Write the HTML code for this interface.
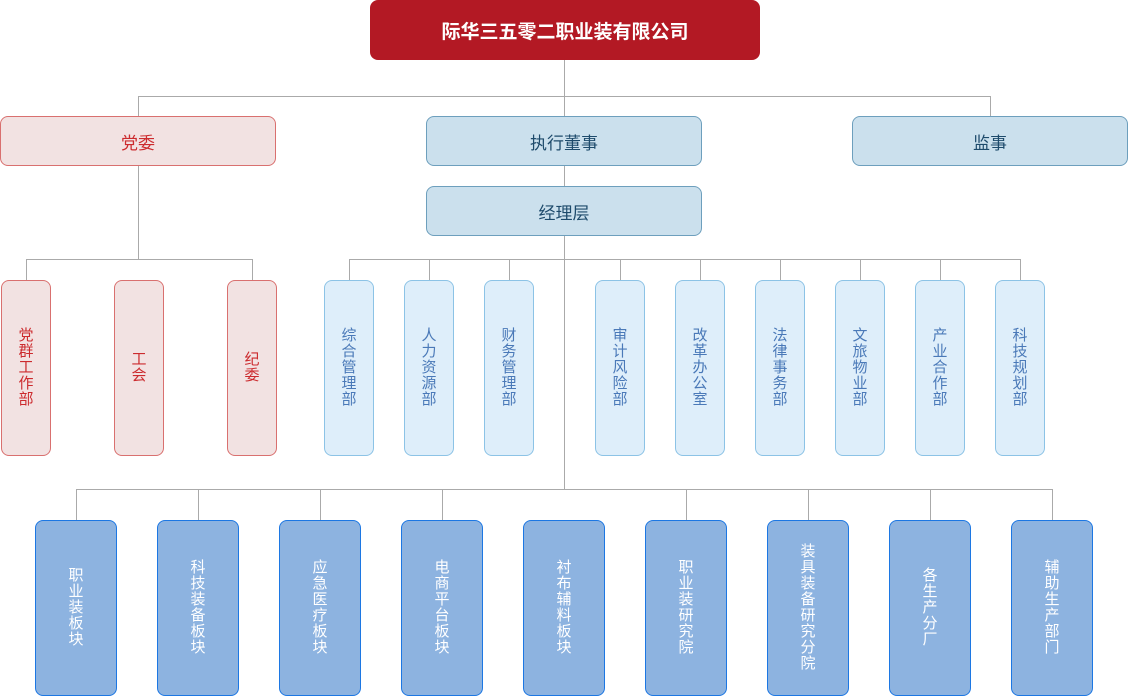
<!DOCTYPE html>
<html><head><meta charset="utf-8"><style>
body{margin:0;width:1128px;height:696px;background:#fff;position:relative;overflow:hidden;font-family:"Liberation Sans","Noto Sans CJK SC",sans-serif}
.b{position:absolute;box-sizing:border-box;display:flex;align-items:center;justify-content:center;text-align:center}
.l{position:absolute;background:#aaa}
.v{width:15px;line-height:16px;font-size:15px;word-break:break-all}
.r{border:1px solid #d9706f;background:#f2e2e2;color:#cc2b2e;border-radius:8px}
.c{border:1px solid #8cc3e6;background:#deeefa;color:#4a79b8;border-radius:8px}
.d{border:1px solid #1c77e3;background:#8db3e0;color:#fff;border-radius:8px}
.h{border:1px solid #6d9fbd;background:#cbe0ed;color:#1d4a6b;border-radius:8px;font-size:17px}
</style></head><body>
<div class="l" style="left:564px;top:59px;width:1px;height:430px"></div>
<div class="l" style="left:138px;top:96px;width:853px;height:1px"></div>
<div class="l" style="left:138px;top:96px;width:1px;height:20px"></div>
<div class="l" style="left:990px;top:96px;width:1px;height:20px"></div>
<div class="l" style="left:138px;top:165px;width:1px;height:94px"></div>
<div class="l" style="left:26px;top:259px;width:227px;height:1px"></div>
<div class="l" style="left:26px;top:259px;width:1px;height:21px"></div>
<div class="l" style="left:252px;top:259px;width:1px;height:21px"></div>
<div class="l" style="left:349px;top:259px;width:672px;height:1px"></div>
<div class="l" style="left:349px;top:259px;width:1px;height:21px"></div>
<div class="l" style="left:429px;top:259px;width:1px;height:21px"></div>
<div class="l" style="left:509px;top:259px;width:1px;height:21px"></div>
<div class="l" style="left:620px;top:259px;width:1px;height:21px"></div>
<div class="l" style="left:700px;top:259px;width:1px;height:21px"></div>
<div class="l" style="left:780px;top:259px;width:1px;height:21px"></div>
<div class="l" style="left:860px;top:259px;width:1px;height:21px"></div>
<div class="l" style="left:940px;top:259px;width:1px;height:21px"></div>
<div class="l" style="left:1020px;top:259px;width:1px;height:21px"></div>
<div class="l" style="left:76px;top:489px;width:977px;height:1px"></div>
<div class="l" style="left:76px;top:489px;width:1px;height:31px"></div>
<div class="l" style="left:198px;top:489px;width:1px;height:31px"></div>
<div class="l" style="left:320px;top:489px;width:1px;height:31px"></div>
<div class="l" style="left:442px;top:489px;width:1px;height:31px"></div>
<div class="l" style="left:686px;top:489px;width:1px;height:31px"></div>
<div class="l" style="left:808px;top:489px;width:1px;height:31px"></div>
<div class="l" style="left:930px;top:489px;width:1px;height:31px"></div>
<div class="l" style="left:1052px;top:489px;width:1px;height:31px"></div>

<div class="b" style="left:370px;top:0;width:390px;height:60px;background:#b31924;border-radius:8px;color:#fff;font-size:19px;font-weight:bold">际华三五零二职业装有限公司</div>
<div class="b r" style="left:0;top:116px;width:276px;height:50px;font-size:17px">党委</div>
<div class="b h" style="left:426px;top:116px;width:276px;height:50px">执行董事</div>
<div class="b h" style="left:852px;top:116px;width:276px;height:50px">监事</div>
<div class="b h" style="left:426px;top:186px;width:276px;height:50px">经理层</div>

<div class="b r" style="left:1px;top:280px;width:50px;height:176px"><div class="v">党群工作部</div></div>
<div class="b r" style="left:114px;top:280px;width:50px;height:176px"><div class="v">工会</div></div>
<div class="b r" style="left:227px;top:280px;width:50px;height:176px"><div class="v">纪委</div></div>

<div class="b c" style="left:324px;top:280px;width:50px;height:176px"><div class="v">综合管理部</div></div>
<div class="b c" style="left:404px;top:280px;width:50px;height:176px"><div class="v">人力资源部</div></div>
<div class="b c" style="left:484px;top:280px;width:50px;height:176px"><div class="v">财务管理部</div></div>
<div class="b c" style="left:595px;top:280px;width:50px;height:176px"><div class="v">审计风险部</div></div>
<div class="b c" style="left:675px;top:280px;width:50px;height:176px"><div class="v">改革办公室</div></div>
<div class="b c" style="left:755px;top:280px;width:50px;height:176px"><div class="v">法律事务部</div></div>
<div class="b c" style="left:835px;top:280px;width:50px;height:176px"><div class="v">文旅物业部</div></div>
<div class="b c" style="left:915px;top:280px;width:50px;height:176px"><div class="v">产业合作部</div></div>
<div class="b c" style="left:995px;top:280px;width:50px;height:176px"><div class="v">科技规划部</div></div>

<div class="b d" style="left:35px;top:520px;width:82px;height:176px"><div class="v">职业装板块</div></div>
<div class="b d" style="left:157px;top:520px;width:82px;height:176px"><div class="v">科技装备板块</div></div>
<div class="b d" style="left:279px;top:520px;width:82px;height:176px"><div class="v">应急医疗板块</div></div>
<div class="b d" style="left:401px;top:520px;width:82px;height:176px"><div class="v">电商平台板块</div></div>
<div class="b d" style="left:523px;top:520px;width:82px;height:176px"><div class="v">衬布辅料板块</div></div>
<div class="b d" style="left:645px;top:520px;width:82px;height:176px"><div class="v">职业装研究院</div></div>
<div class="b d" style="left:767px;top:520px;width:82px;height:176px"><div class="v">装具装备研究分院</div></div>
<div class="b d" style="left:889px;top:520px;width:82px;height:176px"><div class="v">各生产分厂</div></div>
<div class="b d" style="left:1011px;top:520px;width:82px;height:176px"><div class="v">辅助生产部门</div></div>
</body></html>
